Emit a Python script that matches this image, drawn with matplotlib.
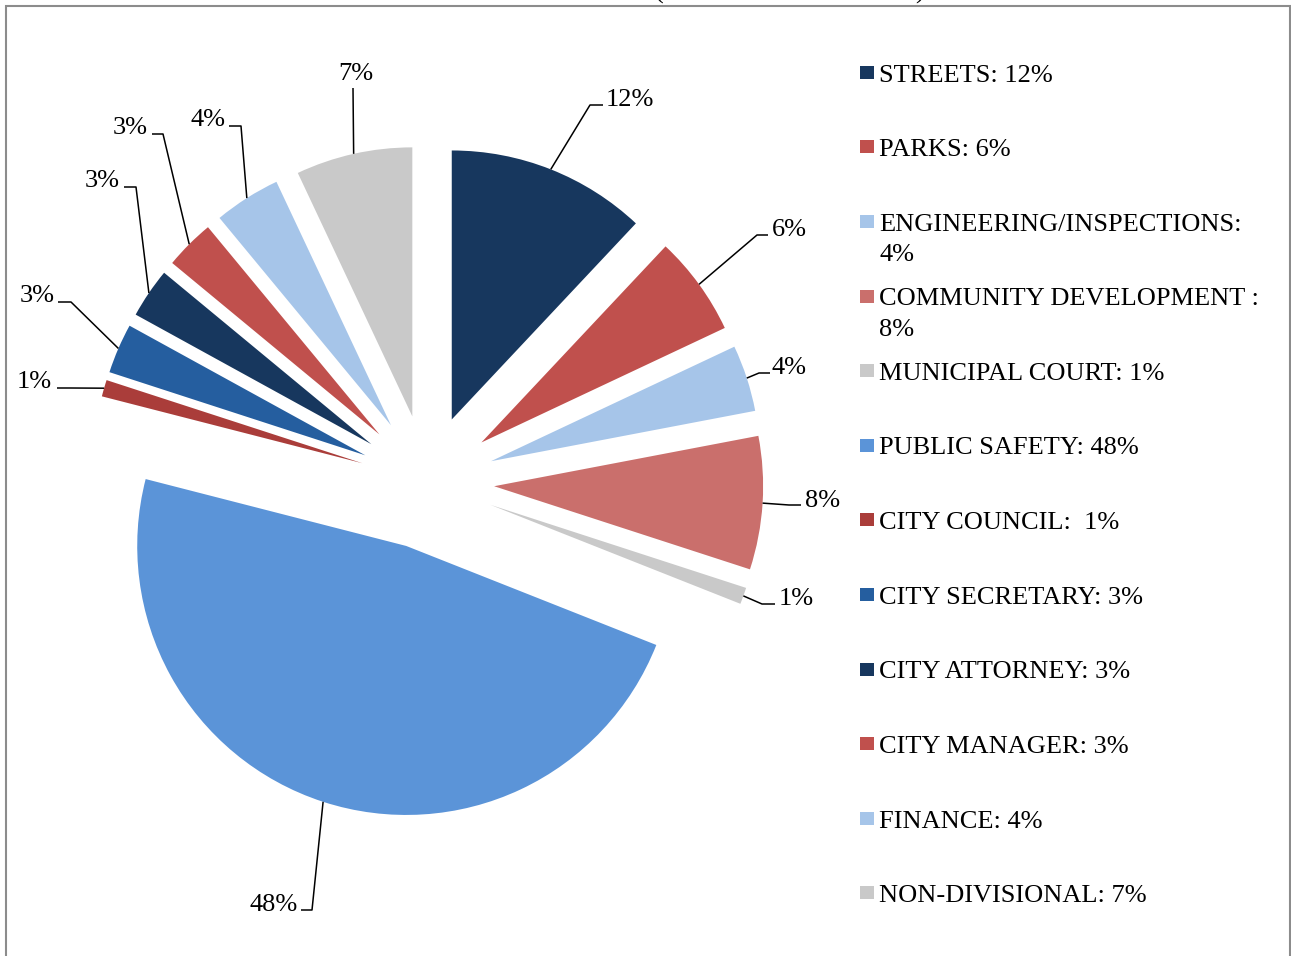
import matplotlib
matplotlib.use("Agg")
import matplotlib.pyplot as plt
from matplotlib.patches import Rectangle
import numpy as np

# ---------------- data ----------------
categories = ["STREETS", "PARKS", "ENGINEERING/INSPECTIONS", "COMMUNITY DEVELOPMENT",
              "MUNICIPAL COURT", "PUBLIC SAFETY", "CITY COUNCIL", "CITY SECRETARY",
              "CITY ATTORNEY", "CITY MANAGER", "FINANCE", "NON-DIVISIONAL"]
values = [12, 6, 4, 8, 1, 48, 1, 3, 3, 3, 4, 7]
legend_labels = ["STREETS: 12%", "PARKS: 6%", "ENGINEERING/INSPECTIONS:\n4%",
                 "COMMUNITY DEVELOPMENT :\n8%", "MUNICIPAL COURT: 1%", "PUBLIC SAFETY: 48%",
                 "CITY COUNCIL:  1%", "CITY SECRETARY: 3%", "CITY ATTORNEY: 3%",
                 "CITY MANAGER: 3%", "FINANCE: 4%", "NON-DIVISIONAL: 7%"]
colors = ["#17375E", "#C0504D", "#A6C5E9", "#CA6F6C", "#C9C9C9", "#5B94D8",
          "#AA3D3A", "#255E9F", "#17375E", "#C0504D", "#A6C5E9", "#C9C9C9"]

# ---------------- layout (pixels) ----------------
W, H = 1291, 956
CX, CY, R = 427, 482, 269
EXPLODE = 0.25
FONT = "Liberation Serif"
FS = 19

# label text anchor (x, baseline y, ha), leader elbow, leader end
label_layout = [
    (606, 106, "left", (590, 105), (603, 105)),
    (772, 236, "left", (757, 235), (768, 235)),
    (772, 374, "left", (759, 373), (770, 373)),
    (805, 507, "left", (789, 505), (801, 505)),
    (779, 605, "left", (762, 604), (775, 604)),
    (298, 911, "right", (312, 910), (301, 910)),
    (52, 388, "right", (70, 388), (57, 388)),
    (55, 302, "right", (71, 302), (58, 302)),
    (120, 187, "right", (136, 187), (124, 187)),
    (148, 134, "right", (163, 134), (152, 134)),
    (226, 126, "right", (241, 126), (229, 126)),
    (356, 80, "center", (353, 88), (353, 88)),
]
LEG_X_BOX, LEG_X_TEXT = 860, 879
LEG_Y0, LEG_DY, LEG_LINE = 81.5, 74.6, 30.7


def P(px, py):
    return ((px - CX) / R, (CY - py) / R)


fig = plt.figure(figsize=(W / 100, H / 100), dpi=100)
ax = fig.add_axes([0, 0, 1, 1])
wedges, _ = ax.pie(values, colors=colors, startangle=90, counterclock=False,
                   explode=[EXPLODE] * len(values), radius=1,
                   wedgeprops=dict(linewidth=0))
ax.set_xlim(-CX / R, (W - CX) / R)
ax.set_ylim((CY - H) / R, CY / R)
ax.set_aspect("auto")
ax.axis("off")

# data labels with leader lines
for w, v, (tx, ty, ha, elbow, end) in zip(wedges, values, label_layout):
    mid = np.deg2rad((w.theta1 + w.theta2) / 2)
    sx = w.center[0] + w.r * np.cos(mid)
    sy = w.center[1] + w.r * np.sin(mid)
    ex, ey = P(*elbow)
    nx, ny = P(*end)
    ax.plot([sx, ex, nx], [sy, ey, ny], color="black", lw=1.1, solid_capstyle="butt")
    x, y = P(tx, ty)
    ax.text(x, y, f"{v}%", ha=ha, va="baseline", fontsize=FS, family=FONT, color="black")

# legend
for i, (lab, col) in enumerate(zip(legend_labels, colors)):
    base = LEG_Y0 + LEG_DY * i
    x0, y0 = P(LEG_X_BOX, base - 2.7)
    ax.add_patch(Rectangle((x0, y0), 14 / R, 13 / R, facecolor=col, edgecolor="none"))
    for k, line in enumerate(lab.split("\n")):
        x, y = P(LEG_X_TEXT, base + LEG_LINE * k)
        ax.text(x, y, line, ha="left", va="baseline", fontsize=FS, family=FONT,
                color="black")

# clipped title (only parentheses tails visible)
for px, ch in ((659, "("), (920, ")")):
    x, y = P(px, -1)
    ax.text(x, y, ch, ha="center", va="baseline",
            fontsize=FS, family=FONT, color="black", clip_on=False)

# border frame
bx = [P(6.5, 960), P(6.5, 5.5), P(1289.5, 5.5), P(1289.5, 960)]
ax.plot([b[0] for b in bx], [b[1] for b in bx], color="#8C8C8C", lw=1.5,
        solid_joinstyle="miter", clip_on=False)

fig.savefig("out.png", dpi=100)
